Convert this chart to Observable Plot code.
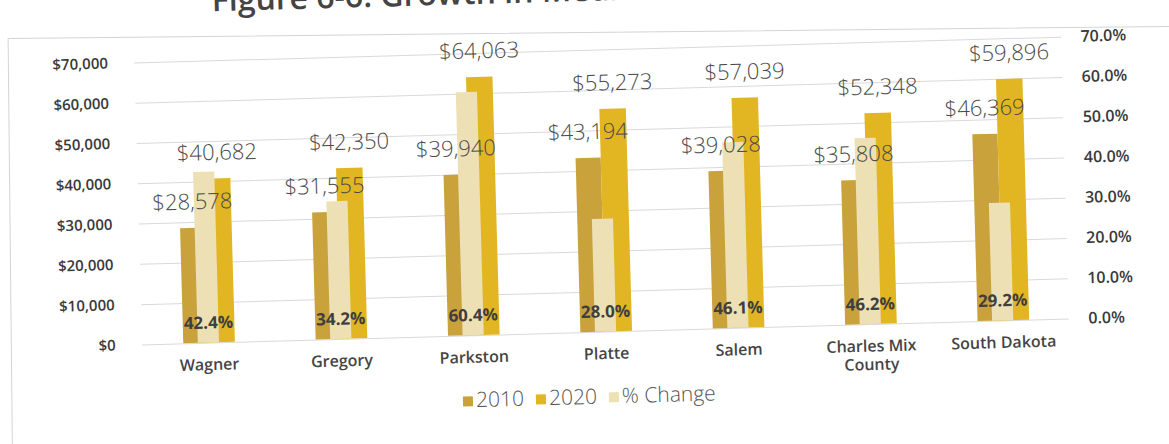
<!DOCTYPE html>
<html>
<head>
<meta charset="utf-8">
<script src="https://cdn.jsdelivr.net/npm/d3@7"></script>
<script src="https://cdn.jsdelivr.net/npm/@observablehq/plot@0.6"></script>
<style>
  html, body { margin: 0; padding: 0; background: #fff; }
  #page { position: relative; width: 1169px; height: 444px; overflow: hidden; background: #fff; }
  #tilt { position: absolute; left: 0; top: 0; width: 1169px; height: 444px; transform: rotate(-1.6deg); transform-origin: 585px 222px; }
  #title { position: absolute; left: 218px; top: -33px; font: 600 32px "Open Sans", sans-serif; color: #444; white-space: nowrap; }
  #frame { position: absolute; left: 8px; top: 38px; width: 1170px; height: 430px; border: 1px solid #d4d4d4; box-sizing: border-box; transform: rotate(-0.6deg); transform-origin: 8px 38px; }
  #chart { position: absolute; left: 0; top: 0; }
  #legend { position: absolute; left: 0; width: 1169px; top: 382px; text-align: center; font: 300 21px "Open Sans", sans-serif; color: #555; }
  #legend span.item { margin: 0 6px; white-space: nowrap; }
  #legend span.sw { display: inline-block; width: 10px; height: 10px; margin-right: 3px; vertical-align: 1px; }
</style>
</head>
<body>
<div id="page">
  <div id="frame"></div>
  <div id="tilt">
    <div id="title">Figure 6-6: Growth in Median Household Income</div>
    <div id="chart"></div>
    <div id="legend"></div>
  </div>
</div>
<script>
// ---- data ----
const categories = ["Wagner", "Gregory", "Parkston", "Platte", "Salem", "Charles Mix\nCounty", "South Dakota"];
const income2010 = [28578, 31555, 39940, 43194, 39028, 35808, 46369];
const income2020 = [40682, 42350, 64063, 55273, 57039, 52348, 59896];
const pctChange = [42.4, 34.2, 60.4, 28.0, 46.1, 46.2, 29.2];
const dollarTicks = [0, 10000, 20000, 30000, 40000, 50000, 60000, 70000];
const seriesNames = ["2010", "2020", "% Change"];

// secondary axis: 70.0% aligns with $70,000
const pctScale = 1000;

const colors = {"2010": "#c9a23c", "2020": "#e2b623", "% Change": "#ede0b4"};

const rows = categories.map((c, i) => ({
  i, c, v2010: income2010[i], v2020: income2020[i], pct: pctChange[i], pctY: pctChange[i] * pctScale
}));

const fmtDollar = d => "$" + d3.format(",")(d);

const chart = Plot.plot({
  width: 1169,
  height: 400,
  marginTop: 50,
  marginBottom: 68,
  marginLeft: 139,
  marginRight: 103,
  x: {domain: [-0.5, 6.5], axis: null},
  y: {domain: [0, 70000], axis: null},
  style: {fontFamily: "'Open Sans', sans-serif", background: "transparent", overflow: "visible"},
  marks: [
    Plot.gridY(dollarTicks, {stroke: "#d9d9d9", strokeOpacity: 1, strokeWidth: 1}),
    Plot.axisY(dollarTicks, {anchor: "left", label: null, tickSize: 0, tickPadding: 27, tickFormat: fmtDollar,
      fontSize: 15, fontWeight: 600, fill: "#3a3a3a"}),
    Plot.axisY(dollarTicks, {anchor: "right", label: null, tickSize: 0, tickPadding: 19,
      tickFormat: d => (d / pctScale).toFixed(1) + "%", fontSize: 16, fontWeight: 600, fill: "#3a3a3a", textAnchor: "start"}),
    Plot.axisX(d3.range(categories.length), {anchor: "bottom", label: null, tickSize: 0, tickPadding: 14,
      tickFormat: i => categories[i], fontSize: 16, fontWeight: 600, fill: "#444", lineHeight: 1.15}),
    Plot.rectY(rows, {x1: d => d.i - 0.19, x2: d => d.i, y: "v2010", fill: colors["2010"]}),
    Plot.rectY(rows, {x1: d => d.i, x2: d => d.i + 0.2, y: "v2020", fill: colors["2020"]}),
    Plot.rectY(rows, {x1: d => d.i - 0.08, x2: d => d.i + 0.08, y: "pctY", fill: colors["% Change"]}),
    Plot.text(rows, {x: d => d.i - 0.095, y: "v2010", text: d => fmtDollar(d.v2010), dy: -26,
      fontSize: 22, fontWeight: 300, fill: "#4a4a4a", lineAnchor: "middle"}),
    Plot.text(rows, {x: d => d.i + 0.1, y: "v2020", text: d => fmtDollar(d.v2020), dy: -26,
      fontSize: 22, fontWeight: 300, fill: "#4a4a4a", lineAnchor: "middle"}),
    Plot.text(rows, {x: "i", y: 0, text: d => d.pct.toFixed(1) + "%", dy: -20,
      fontSize: 17, fontWeight: 700, fill: "#3e3e3e", lineAnchor: "middle"})
  ]
});
document.getElementById("chart").appendChild(chart);

const legend = document.getElementById("legend");
seriesNames.forEach(name => {
  const item = document.createElement("span");
  item.className = "item";
  const sw = document.createElement("span");
  sw.className = "sw";
  sw.style.background = colors[name];
  item.appendChild(sw);
  item.appendChild(document.createTextNode(name));
  legend.appendChild(item);
});
</script>
</body>
</html>
